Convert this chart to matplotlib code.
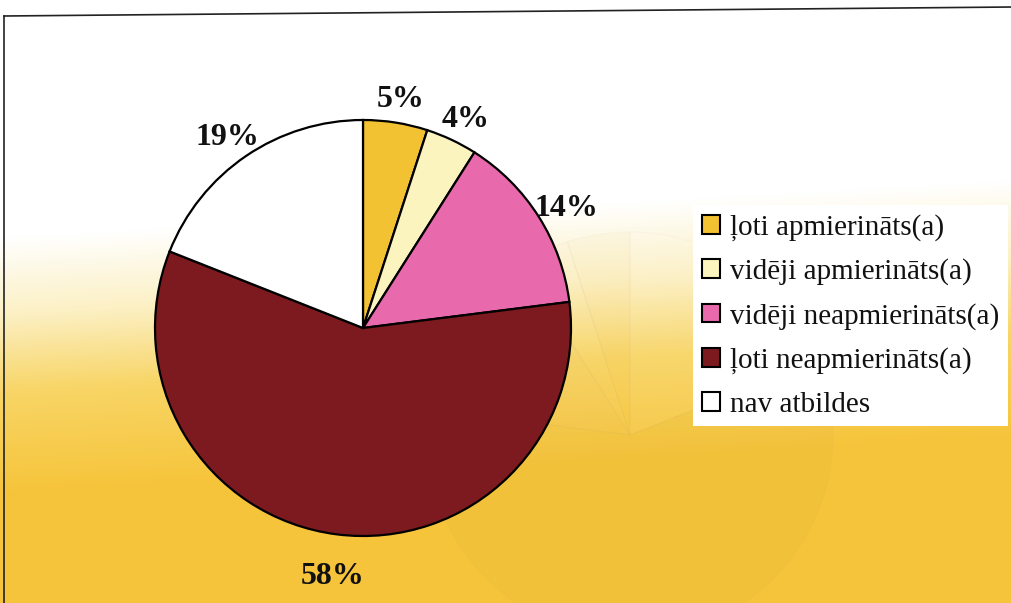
import numpy as np
import matplotlib
matplotlib.use('Agg')
import matplotlib.pyplot as plt
from matplotlib.colors import LinearSegmentedColormap
from matplotlib.patches import Patch

# data
labels = ['ļoti apmierināts(a)', 'vidēji apmierināts(a)', 'vidēji neapmierināts(a)',
          'ļoti neapmierināts(a)', 'nav atbildes']
values = [5, 4, 14, 58, 19]
colors = ['#F3C232', '#FBF4BE', '#E96AAC', '#7C1A1F', '#FFFFFF']

W, H = 1012, 603
fig = plt.figure(figsize=(W / 100, H / 100), dpi=100)
plt.rcParams['font.family'] = ['Liberation Serif', 'DejaVu Serif']

# background: white at top fading into warm yellow, a bit stronger to the right
bg = fig.add_axes([0, 0, 1, 1])
bg.set_xlim(0, W)
bg.set_ylim(H, 0)
bg.axis('off')
cmap = LinearSegmentedColormap.from_list(
    'bg', [(0, '#FFFFFF'), (0.3, '#FCF0C4'), (0.6, '#F8D566'), (1.0, '#F6C43A')])
yy, xx = np.mgrid[0:H:4, 0:W:4]
shade = np.clip((yy - 235) / 260 + (xx / W) * 0.22, 0, 1)
bg.imshow(shade, cmap=cmap, vmin=0, vmax=1, extent=[0, W, H, 0],
          aspect='auto', zorder=0, interpolation='bilinear')
# scan border
bg.plot([4, 4], [H, 16], color='#222222', lw=1.2, zorder=1)
bg.plot([4, W], [16, 7], color='#222222', lw=1.2, zorder=1)

# faint bleed-through pie behind the legend
r_g = 203
ghost = fig.add_axes([(630 - r_g) / W, (H - 435 - r_g) / H, 2 * r_g / W, 2 * r_g / H])
ghost.pie(values[::-1], startangle=90, counterclock=False, radius=1,
          colors=['#FFFFFF', '#B89040', '#E0B0A0', '#F0E0A0', '#E8C060'],
          wedgeprops=dict(edgecolor='#B8A070', linewidth=0.8, alpha=0.05))
ghost.set_xlim(-1, 1)
ghost.set_ylim(-1, 1)
ghost.set_aspect('equal')
ghost.axis('off')

# main pie
cx, cy, r = 363, 328, 208
ax = fig.add_axes([(cx - r) / W, (H - cy - r) / H, 2 * r / W, 2 * r / H])
wedges, texts, autotexts = ax.pie(
    values, startangle=90, counterclock=False, colors=colors, radius=1,
    autopct=lambda p: f'{p:.0f}%', pctdistance=1.16,
    wedgeprops=dict(edgecolor='black', linewidth=1.6),
    textprops=dict(fontsize=23, fontweight='bold', color='#111111'))
for t in autotexts:
    x, y = t.get_position()
    t.set_position((x, y - 0.045))
ax.set_xlim(-1, 1)
ax.set_ylim(-1, 1)
ax.set_aspect('equal')
ax.axis('off')

# legend in a white box on the right
handles = [Patch(facecolor=c, edgecolor='black', linewidth=1.5) for c in colors]
leg = fig.legend(handles, labels, loc='upper left',
                 bbox_to_anchor=(693 / W, 1 - 205 / H),
                 frameon=True, fancybox=False, framealpha=1,
                 facecolor='white', edgecolor='none',
                 fontsize=21, handlelength=0.62, handleheight=0.62,
                 handletextpad=0.35, labelspacing=0.6,
                 borderpad=0.3, borderaxespad=0)
for t in leg.get_texts():
    t.set_color('#111111')

fig.savefig('out.png', dpi=100)
